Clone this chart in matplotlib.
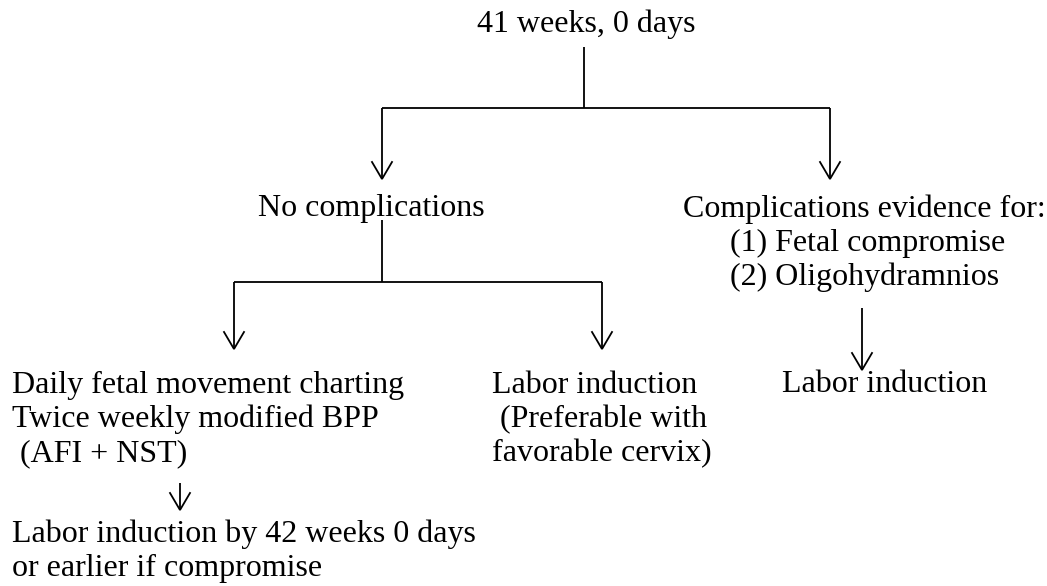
import matplotlib.pyplot as plt

# node texts (one string per line)
top_lines = ["41 weeks, 0 days"]
no_comp_lines = ["No complications"]
comp_lines = ["Complications evidence for:", "(1) Fetal compromise", "(2) Oligohydramnios"]
monitor_lines = ["Daily fetal movement charting", "Twice weekly modified BPP", " (AFI + NST)"]
late_induction_lines = ["Labor induction by 42 weeks 0 days", "or earlier if compromise"]
mid_induction_lines = ["Labor induction", " (Preferable with", "favorable cervix)"]
right_induction_lines = ["Labor induction"]

W, H = 1047, 586
fig = plt.figure(figsize=(W / 100, H / 100), dpi=100)
ax = fig.add_axes([0, 0, 1, 1])
ax.set_xlim(0, W)
ax.set_ylim(H, 0)
ax.axis("off")

FONT = "Liberation Serif"
SIZE = 23
LINE = 34
LW = 1.3


def block(lines, x, y0, indent=None):
    for i, s in enumerate(lines):
        dx = indent[i] if indent else 0
        ax.text(x + dx, y0 + i * LINE, s, fontsize=SIZE, family=FONT,
                ha="left", va="baseline", color="black")


def seg(x0, y0, x1, y1):
    ax.plot([x0, x1], [y0, y1], color="black", lw=LW, solid_capstyle="butt")


def arrow(x, y0, y1):
    seg(x, y0, x, y1)
    ax.plot([x - 10, x, x + 10], [y1 - 17, y1, y1 - 17], color="black",
            lw=LW, solid_joinstyle="miter")


# texts
block(top_lines, 477, 32)
block(no_comp_lines, 258, 216)
block(comp_lines, 683, 217, indent=[0, 47, 47])
block(monitor_lines, 12, 393)
block(late_induction_lines, 12, 542)
block(mid_induction_lines, 492, 393)
block(right_induction_lines, 782, 392)

# connectors
seg(584, 47, 584, 108)
seg(382, 108, 830, 108)
arrow(382, 108, 179)
arrow(830, 108, 179)

seg(382, 220, 382, 282)
seg(234, 282, 602, 282)
arrow(234, 282, 349)
arrow(602, 282, 349)

arrow(862, 308, 370)
arrow(180, 483, 510)

fig.savefig("out.png", dpi=100, facecolor="white")
